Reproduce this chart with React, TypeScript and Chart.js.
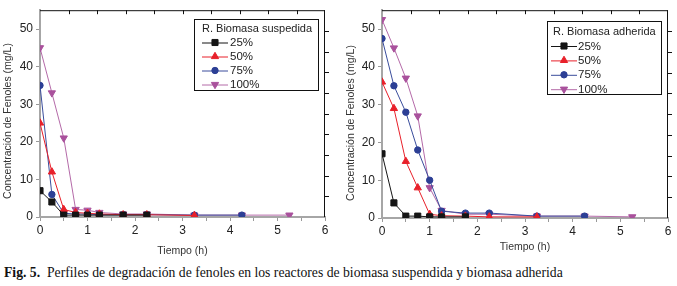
import React, { useEffect, useRef } from "react";
import { Chart, registerables } from "chart.js";
import { drawPoint } from "chart.js/helpers";

Chart.register(...registerables);

// ---- data ----
const timeH = [0, 0.25, 0.5, 0.75, 1, 1.25, 1.75, 2.25, 3.25, 4.25, 5.25];
const seriesLabels = ["25%", "50%", "75%", "100%"];

const susp25 = [7, 4, 0.5, 0.5, 0.5, 0.5, 0.5, 0.5];
const susp50 = [25, 12, 2, 1.2, 1, 0.8, 0.6, 0.6, 0.4];
const susp75 = [35, 6, 1, 0.8, 0.8, 0.6, 0.6, 0.6, 0.5, 0.5];
const susp100 = [45, 33, 21, 2, 1.8, 1.2, 0.8, 0.8, 0.5, 0.5, 0.5];

const adh25 = [17, 4, 0.5, 0.5, 0.3, 0.3, 0.3];
const adh50 = [36, 29, 15, 8, 1, 0.6, 0.5, 0.3, 0.3];
const adh75 = [47.5, 35, 28, 18, 10, 1.8, 1.3, 1.3, 0.5, 0.5];
const adh100 = [52.5, 45, 37, 27, 8, 2, 1, 1, 0.5, 0.5, 0.3];

const xTicks = [0, 1, 2, 3, 4, 5, 6];
const yTicks = [0, 10, 20, 30, 40, 50];

const xTitle = "Tiempo (h)";
const yTitle = "Concentración de Fenoles (mg/L)";

const FONT = "'Liberation Sans', Arial, sans-serif";

const styles = [
  { color: "#151515", line: "#151515", pointStyle: "rect", rotation: 0, radius: 4.3 },
  { color: "#e8202a", line: "#e8202a", pointStyle: "triangle", rotation: 0, radius: 4.2 },
  { color: "#2c3f95", line: "#3a4d9c", pointStyle: "circle", rotation: 0, radius: 3.2 },
  { color: "#a9519c", line: "#b46aa8", pointStyle: "triangle", rotation: 180, radius: 4.2 },
];

function makeDatasets(values: number[][]) {
  return values.map((arr, i) => ({
    label: seriesLabels[i],
    data: arr.map((v, k) => ({ x: timeH[k], y: v })),
    borderColor: styles[i].line,
    backgroundColor: styles[i].color,
    pointBackgroundColor: styles[i].color,
    pointBorderColor: styles[i].color,
    pointStyle: styles[i].pointStyle,
    pointRotation: styles[i].rotation,
    pointRadius: styles[i].radius,
    borderWidth: 1,
    pointBorderWidth: 1,
    tension: 0,
  }));
}

const framePlugin = {
  id: "frame",
  afterDraw(chart: any) {
    const { ctx, chartArea } = chart;
    const opts = chart.options.plugins.frame;
    const { left, right, top, bottom } = chartArea;
    ctx.save();
    ctx.strokeStyle = "#111";
    ctx.lineWidth = 1;
    ctx.beginPath();
    ctx.moveTo(left, top + 0.5);
    ctx.lineTo(right, top + 0.5);
    ctx.moveTo(right - 0.5, top);
    ctx.lineTo(right - 0.5, bottom);
    for (let i = 1; i < 10; i++) {
      const x = Math.round(left + ((right - left) * i) / 10) + 0.5;
      ctx.moveTo(x, top);
      ctx.lineTo(x, top + 4);
    }
    for (let i = 1; i < 10; i++) {
      const y = Math.round(top + ((bottom - top) * i) / 10) + 0.5;
      ctx.moveTo(right, y);
      ctx.lineTo(right + 4, y);
    }
    ctx.stroke();

    // y axis title
    ctx.save();
    ctx.translate(opts.yTitleX, opts.yTitleY);
    ctx.rotate(-Math.PI / 2);
    ctx.fillStyle = "#333";
    ctx.font = `10.5px ${FONT}`;
    ctx.textAlign = "center";
    ctx.textBaseline = "middle";
    ctx.fillText(yTitle, 0, 0);
    ctx.restore();

    // legend
    const lg = opts.legend;
    ctx.fillStyle = "#fff";
    ctx.fillRect(lg.x1, lg.y1, lg.x2 - lg.x1, lg.y2 - lg.y1);
    ctx.strokeStyle = "#111";
    ctx.lineWidth = 1;
    ctx.strokeRect(lg.x1 + 0.5, lg.y1 + 0.5, lg.x2 - lg.x1, lg.y2 - lg.y1);
    ctx.fillStyle = "#222";
    ctx.font = `11px ${FONT}`;
    ctx.textBaseline = "middle";
    ctx.textAlign = "left";
    ctx.fillText(lg.title, lg.titleX, lg.titleY);
    ctx.font = `11.5px ${FONT}`;
    chart.data.datasets.forEach((ds: any, i: number) => {
      const y = lg.rowY + i * lg.rowGap;
      ctx.strokeStyle = ds.borderColor;
      ctx.lineWidth = 1;
      ctx.beginPath();
      ctx.moveTo(lg.lineX1, y + 0.5);
      ctx.lineTo(lg.lineX2, y + 0.5);
      ctx.stroke();
      ctx.fillStyle = ds.pointBackgroundColor;
      ctx.strokeStyle = ds.pointBorderColor;
      drawPoint(ctx, { pointStyle: ds.pointStyle, rotation: ds.pointRotation, radius: ds.pointRadius, borderWidth: 1 }, (lg.lineX1 + lg.lineX2) / 2, y);
      ctx.fillStyle = "#222";
      ctx.fillText(ds.label, lg.textX, y + 0.5);
    });
    ctx.restore();
  },
};

function buildConfig(values: number[][], p: any) {
  return {
    type: "line",
    data: { datasets: makeDatasets(values) },
    plugins: [framePlugin],
    options: {
      animation: false,
      responsive: false,
      maintainAspectRatio: false,
      layout: { padding: { left: 0, right: p.padRight, top: p.padTop, bottom: 0 } },
      plugins: {
        legend: { display: false },
        tooltip: { enabled: false },
        frame: { legend: p.legend, yTitleX: p.yTitleX, yTitleY: p.yTitleY },
      },
      scales: {
        x: {
          type: "linear",
          min: 0,
          max: 6,
          afterBuildTicks: (scale: any) => {
            const t: any[] = [];
            for (let i = 0; i <= 12; i++) t.push({ value: i * 0.5 });
            scale.ticks = t;
          },
          ticks: {
            autoSkip: false,
            maxRotation: 0,
            padding: 2,
            color: "#222",
            font: { family: FONT, size: 12 },
            callback: (v: number) => (xTicks.includes(v) ? String(v) : ""),
          },
          grid: { drawOnChartArea: false, drawTicks: true, tickLength: 4, color: "#999", lineWidth: 1 },
          border: { color: "#a6a6a6", width: 2 },
          title: {
            display: true,
            text: xTitle,
            color: "#333",
            font: { family: FONT, size: 10.5 },
            padding: { top: 0, bottom: p.xTitlePad },
          },
          afterFit: (scale: any) => {
            scale.height = p.xAxisHeight;
          },
        },
        y: {
          type: "linear",
          min: 0,
          max: 55,
          afterBuildTicks: (scale: any) => {
            scale.ticks = yTicks.map((v) => ({ value: v }));
          },
          ticks: {
            padding: 3,
            color: "#222",
            font: { family: FONT, size: 12 },
          },
          grid: { drawOnChartArea: false, drawTicks: true, tickLength: 4, color: "#999", lineWidth: 1 },
          border: { color: "#a6a6a6", width: 2 },
          title: { display: false },
          afterFit: (scale: any) => {
            scale.width = p.yAxisWidth;
          },
        },
      },
    },
  };
}

function ChartBox(props: { values: number[][]; p: any; left: number; width: number; height: number }) {
  const ref = useRef<HTMLCanvasElement | null>(null);
  useEffect(() => {
    if (!ref.current) return;
    const chart = new Chart(ref.current, buildConfig(props.values, props.p) as any);
    return () => chart.destroy();
  }, []);
  return (
    <div style={{ position: "absolute", left: props.left, top: 0, width: props.width, height: props.height }}>
      <canvas ref={ref} width={props.width} height={props.height} style={{ width: props.width, height: props.height }} />
    </div>
  );
}

export default function App() {
  const leftParams = {
    padRight: 13,
    padTop: 8,
    xAxisHeight: 262 - 217,
    xTitlePad: 5,
    yAxisWidth: 40,
    yTitleX: 8,
    yTitleY: 121,
    legend: {
      x1: 194, y1: 19, x2: 318, y2: 90,
      title: "R. Biomasa suspedida", titleX: 202, titleY: 28.5,
      rowY: 42.5, rowGap: 14,
      lineX1: 202, lineX2: 228, textX: 230,
    },
  };
  const rightParams = {
    padRight: 9,
    padTop: 9,
    xAxisHeight: 262 - 218,
    xTitlePad: 9,
    yAxisWidth: 44,
    yTitleX: 13.5,
    yTitleY: 123,
    legend: {
      x1: 209, y1: 21, x2: 323, y2: 94,
      title: "R. Biomasa adherida", titleX: 215, titleY: 32,
      rowY: 46, rowGap: 14.4,
      lineX1: 213, lineX2: 239, textX: 240,
    },
  };
  return (
    <div style={{ position: "fixed", left: 0, top: 0, width: 677, height: 286, background: "#fff", overflow: "hidden" }}>
      <ChartBox values={[susp25, susp50, susp75, susp100]} p={leftParams} left={0} width={338} height={262} />
      <ChartBox values={[adh25, adh50, adh75, adh100]} p={rightParams} left={338} width={339} height={262} />
      <div
        style={{
          position: "absolute",
          left: 4,
          top: 265,
          fontFamily: "'Liberation Serif', 'Times New Roman', serif",
          fontSize: 13.7,
          lineHeight: "16px",
          color: "#111",
          whiteSpace: "nowrap",
        }}
      >
        <b>Fig. 5.</b>&nbsp; Perfiles de degradación de fenoles en los reactores de biomasa suspendida y biomasa adherida
      </div>
    </div>
  );
}
